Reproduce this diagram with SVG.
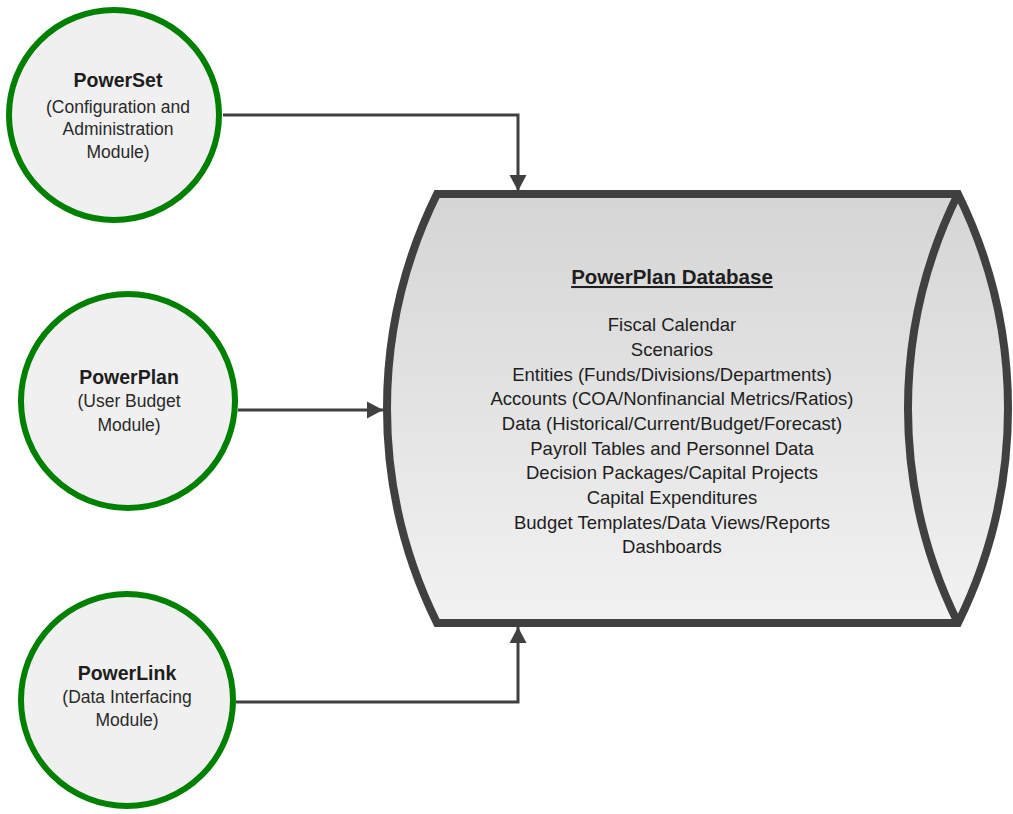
<svg xmlns="http://www.w3.org/2000/svg" width="1013" height="814" viewBox="0 0 1013 814">
  <defs>
    <linearGradient id="dbfill" x1="0" y1="0" x2="0" y2="1">
      <stop offset="0" stop-color="#d5d5d5"/>
      <stop offset="1" stop-color="#f2f2f2"/>
    </linearGradient>
    <marker id="arrow" markerUnits="userSpaceOnUse" markerWidth="20" markerHeight="20" viewBox="0 0 20 20" refX="18" refY="10" orient="auto">
      <path d="M2,1.5 L18,10 L2,18.5 Z" fill="#404040"/>
    </marker>
    <style>
      .mod { fill: #f0f0f0; stroke: #008000; stroke-width: 6; }
      .conn { fill: none; stroke: #404040; stroke-width: 3; marker-end: url(#arrow); }
      .t { font-family: "Liberation Sans", Arial, sans-serif; text-anchor: middle; fill: #1e1e1e; }
      .title { font-size: 19.5px; font-weight: bold; }
      .sub { font-size: 17.5px; fill: #2a2a2a; }
      .db { font-size: 18.5px; }
      .dbt { font-size: 20.5px; font-weight: bold; text-decoration: underline; }
    </style>
  </defs>

  <g id="connectors">
    <path class="conn" d="M223,115 L518,115 L518,191"/>
    <path class="conn" d="M238,410 L383,410"/>
    <path class="conn" d="M236,702 L518,702 L518,627"/>
  </g>

  <g id="powerset">
    <circle class="mod" cx="114" cy="115" r="105"/>
    <text class="t title" x="118" y="87">PowerSet</text>
    <text class="t sub" x="118" y="113">(Configuration and</text>
    <text class="t sub" x="118" y="135">Administration</text>
    <text class="t sub" x="118" y="158">Module)</text>
  </g>

  <g id="powerplan">
    <circle class="mod" cx="128" cy="401" r="107"/>
    <text class="t title" x="129" y="384">PowerPlan</text>
    <text class="t sub" x="129" y="407">(User Budget</text>
    <text class="t sub" x="129" y="431">Module)</text>
  </g>

  <g id="powerlink">
    <circle class="mod" cx="127" cy="700" r="106"/>
    <text class="t title" x="127" y="680">PowerLink</text>
    <text class="t sub" x="127" y="703">(Data Interfacing</text>
    <text class="t sub" x="127" y="726">Module)</text>
  </g>

  <g id="database">
    <path d="M437,194 L958,194 A485,485 0 0 1 958,623 L437,623 A485,485 0 0 1 437,194 Z" fill="url(#dbfill)" stroke="#404040" stroke-width="8" stroke-linejoin="miter"/>
    <path d="M958,194 A485,485 0 0 0 958,623" fill="none" stroke="#404040" stroke-width="8"/>
    <text class="t dbt" x="672" y="284">PowerPlan Database</text>
    <text class="t db" x="672" y="331">Fiscal Calendar</text>
    <text class="t db" x="672" y="356">Scenarios</text>
    <text class="t db" x="672" y="381">Entities (Funds/Divisions/Departments)</text>
    <text class="t db" x="672" y="405">Accounts (COA/Nonfinancial Metrics/Ratios)</text>
    <text class="t db" x="672" y="430">Data (Historical/Current/Budget/Forecast)</text>
    <text class="t db" x="672" y="455">Payroll Tables and Personnel Data</text>
    <text class="t db" x="672" y="479">Decision Packages/Capital Projects</text>
    <text class="t db" x="672" y="504">Capital Expenditures</text>
    <text class="t db" x="672" y="529">Budget Templates/Data Views/Reports</text>
    <text class="t db" x="672" y="553">Dashboards</text>
  </g>
</svg>
